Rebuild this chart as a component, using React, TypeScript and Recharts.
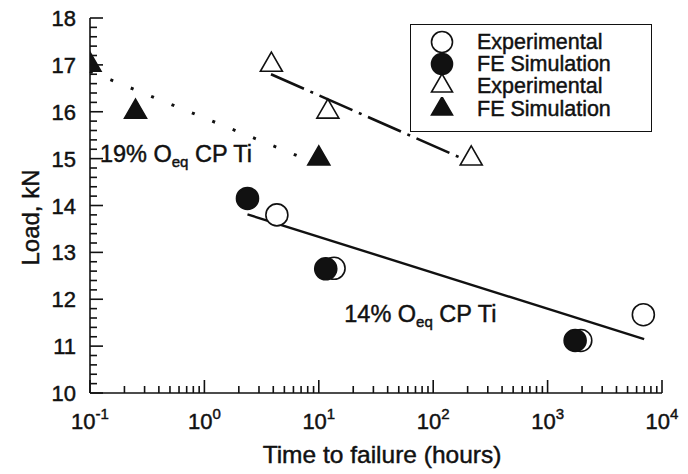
import React from 'react'
import {
  ScatterChart, Scatter, XAxis, YAxis, ReferenceLine, ReferenceDot, Legend, Label,
} from 'recharts'

const FONT = '"Liberation Sans", Arial, Helvetica, sans-serif'
const INK = '#111'

// 14% Oeq CP Ti
const exp14 = [
  { x: 4.3, y: 13.8 },
  { x: 13.6, y: 12.66 },
  { x: 1950, y: 11.12 },
  { x: 6870, y: 11.67 },
]
const fe14 = [
  { x: 2.38, y: 14.15 },
  { x: 11.5, y: 12.65 },
  { x: 1740, y: 11.12 },
]

// 19% Oeq CP Ti
const exp19 = [
  { x: 3.85, y: 17.0 },
  { x: 12.0, y: 16.0 },
  { x: 215, y: 15.0 },
]
const fe19 = [
  { x: 0.1, y: 17.0 },
  { x: 0.25, y: 16.0 },
  { x: 10.0, y: 15.0 },
]

// fitted lines (end points)
const fit14 = [{ x: 2.38, y: 13.81 }, { x: 6980, y: 11.15 }]
const fit19Exp = [{ x: 3.82, y: 16.8 }, { x: 223, y: 14.9 }]
const fit19Sim = [{ x: 0.1, y: 16.86 }, { x: 7, y: 15.03 }]

const notes = [
  { x: 0.122, y: 15.09, before: '19% O', sub: 'eq', after: ' CP Ti' },
  { x: 16.7, y: 11.68, before: '14% O', sub: 'eq', after: ' CP Ti' },
]

const xTicks = [
  0.1, 0.2, 0.3, 0.4, 0.5, 0.6, 0.7, 0.8, 0.9,
  1, 2, 3, 4, 5, 6, 7, 8, 9,
  10, 20, 30, 40, 50, 60, 70, 80, 90,
  100, 200, 300, 400, 500, 600, 700, 800, 900,
  1000, 2000, 3000, 4000, 5000, 6000, 7000, 8000, 9000,
  10000,
]
const xMajor = [0.1, 1, 10, 100, 1000, 10000]

const yTicks = [
  10, 10.2, 10.4, 10.6, 10.8, 11, 11.2, 11.4, 11.6, 11.8,
  12, 12.2, 12.4, 12.6, 12.8, 13, 13.2, 13.4, 13.6, 13.8,
  14, 14.2, 14.4, 14.6, 14.8, 15, 15.2, 15.4, 15.6, 15.8,
  16, 16.2, 16.4, 16.6, 16.8, 17, 17.2, 17.4, 17.6, 17.8,
  18,
]
const yMajor = [10, 11, 12, 13, 14, 15, 16, 17, 18]

const legendItems = [
  { label: 'Experimental', marker: 'circle', filled: false },
  { label: 'FE Simulation', marker: 'circle', filled: true },
  { label: 'Experimental', marker: 'triangle', filled: false },
  { label: 'FE Simulation', marker: 'triangle', filled: true },
]

// scanned text looks heavy, so give glyphs a thin outline
const textInk = { fill: INK, stroke: INK, strokeWidth: 0.45, fontFamily: FONT }

function triPath(cx: number, cy: number, s: number) {
  const h = s * 0.866
  return `M${cx},${cy - (2 * h) / 3}L${cx + s / 2},${cy + h / 3}L${cx - s / 2},${cy + h / 3}Z`
}

function Marker({ kind, filled, cx, cy, size }: any) {
  const fill = filled ? INK : '#fff'
  if (kind === 'circle') {
    return <circle cx={cx} cy={cy} r={size / 2} fill={fill} stroke={INK} strokeWidth={1.6} />
  }
  return <path d={triPath(cx, cy, size)} fill={fill} stroke={INK} strokeWidth={1.6} />
}

const openCircle = (p: any) => <Marker kind="circle" filled={false} cx={p.cx} cy={p.cy} size={22} />
const fullCircle = (p: any) => <Marker kind="circle" filled cx={p.cx} cy={p.cy} size={22} />
const openTri = (p: any) => <Marker kind="triangle" filled={false} cx={p.cx} cy={p.cy} size={22} />
const fullTri = (p: any) => <Marker kind="triangle" filled cx={p.cx} cy={p.cy} size={22} />

// ticks point into the plot; long ones on decades / whole kN
function XTick({ x, y, payload }: any) {
  const v = payload.value
  const major = xMajor.includes(v)
  return (
    <g>
      <line x1={x} x2={x} y1={y} y2={y - (major ? 13 : 7)} stroke={INK} strokeWidth={1.6} />
      {major && (
        <text x={x} y={y + 36} textAnchor="middle" fontSize={22} {...textInk}>
          10
          <tspan fontSize={15} dy={-10}>{String(Math.round(Math.log10(v)))}</tspan>
        </text>
      )}
    </g>
  )
}

function YTick({ x, y, payload }: any) {
  const v = payload.value
  const major = yMajor.includes(v)
  return (
    <g>
      <line x1={x} x2={x + (major ? 13 : 7)} y1={y} y2={y} stroke={INK} strokeWidth={1.6} />
      {major && (
        <text x={x - 14} y={y + 8} textAnchor="end" fontSize={22} {...textInk}>
          {v}
        </text>
      )}
    </g>
  )
}

function YTitle({ viewBox }: any) {
  const cx = viewBox.x + 30
  const cy = viewBox.y + viewBox.height / 2 + 12
  return (
    <text
      x={cx} y={cy} transform={`rotate(-90 ${cx} ${cy})`}
      textAnchor="middle" dominantBaseline="central" fontSize={24} {...textInk}
    >
      Load, kN
    </text>
  )
}

function NoteLabel(note: any) {
  return ({ viewBox }: any) => (
    <text x={viewBox.x} y={viewBox.y + 8} fontSize={23.5} {...textInk}>
      {note.before}
      <tspan fontSize={15} dy={5}>{note.sub}</tspan>
      <tspan dy={-5}>{note.after}</tspan>
    </text>
  )
}

function LegendBox() {
  return (
    <div
      style={{
        width: 242, height: 108, border: `1.6px solid ${INK}`, boxSizing: 'border-box',
        paddingTop: 5.5, background: '#fff', fontFamily: FONT,
      }}
    >
      {legendItems.map((item, i) => (
        <div key={i} style={{ display: 'flex', alignItems: 'center', height: 22.3 }}>
          <svg width={66} height={24} style={{ flex: 'none', display: 'block' }}>
            <Marker kind={item.marker} filled={item.filled} cx={31} cy={12} size={21} />
          </svg>
          <span
            style={{
              fontSize: 21.5, color: INK, lineHeight: '22px', whiteSpace: 'nowrap',
              WebkitTextStroke: `0.45px ${INK}`,
            }}
          >
            {item.label}
          </span>
        </div>
      ))}
    </div>
  )
}

export default function App() {
  return (
    <div style={{ position: 'absolute', left: 0, top: 0, background: '#fff' }}>
      <ScatterChart width={688} height={474} margin={{ top: 18, right: 26, left: 0, bottom: 0 }}>
        <XAxis
          type="number" dataKey="x" scale="log" domain={[0.1, 10000]} allowDataOverflow
          ticks={xTicks} interval={0} tick={<XTick />} tickSize={0} tickMargin={0}
          tickLine={false} axisLine={{ stroke: INK, strokeWidth: 1.6 }} height={81}
        >
          <Label
            value="Time to failure (hours)" position="insideBottom" offset={11} dx={6}
            fontSize={24.5} fontFamily={FONT} fill={INK} stroke={INK} strokeWidth={0.45}
          />
        </XAxis>
        <XAxis
          xAxisId="top" orientation="top" type="number" dataKey="x" scale="log"
          domain={[0.1, 10000]} allowDataOverflow height={0}
          tick={false} tickLine={false} axisLine={{ stroke: INK, strokeWidth: 1.6 }}
        />
        <YAxis
          type="number" dataKey="y" domain={[10, 18]} allowDataOverflow
          ticks={yTicks} interval={0} tick={<YTick />} tickSize={0} tickMargin={0}
          tickLine={false} axisLine={{ stroke: INK, strokeWidth: 1.6 }} width={90}
        >
          <Label content={<YTitle />} />
        </YAxis>
        <YAxis
          yAxisId="right" orientation="right" type="number" dataKey="y" domain={[10, 18]}
          allowDataOverflow width={0} tick={false} tickLine={false}
          axisLine={{ stroke: INK, strokeWidth: 1.6 }}
        />

        <ReferenceLine segment={fit14} stroke={INK} strokeWidth={2.4} />
        <ReferenceLine segment={fit19Exp} stroke={INK} strokeWidth={2.6} strokeDasharray="36 7 3 7" />
        <ReferenceLine segment={fit19Sim} stroke={INK} strokeWidth={3} strokeDasharray="3 19" />

        {notes.map((n, i) => (
          <ReferenceDot key={i} x={n.x} y={n.y} r={0} fill="none" stroke="none" label={{ content: NoteLabel(n) }} />
        ))}

        <Scatter name="Experimental" data={exp14} shape={openCircle} isAnimationActive={false} />
        <Scatter name="FE Simulation" data={fe14} shape={fullCircle} isAnimationActive={false} />
        <Scatter name="Experimental" data={exp19} shape={openTri} isAnimationActive={false} />
        <Scatter name="FE Simulation" data={fe19} shape={fullTri} isAnimationActive={false} />

        <Legend
          layout="horizontal" verticalAlign="middle" align="center"
          content={() => <LegendBox />}
          wrapperStyle={{ left: 410, top: 24, width: 242, height: 108 }}
        />
      </ScatterChart>
    </div>
  )
}
